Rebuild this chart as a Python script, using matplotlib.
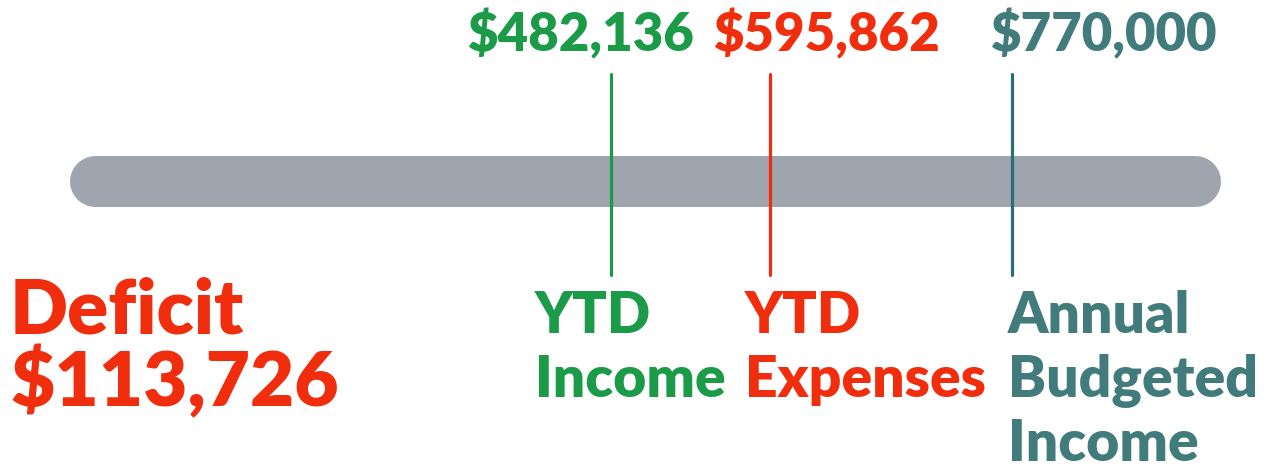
import matplotlib.pyplot as plt

# values shown on the scale
labels_top = ['$482,136', '$595,862', '$770,000']
values = [482136, 595862, 770000]
labels_bottom = [['YTD', 'Income'], ['YTD', 'Expenses'], ['Annual', 'Budgeted', 'Income']]
colors = ['#1b9a48', '#f02d0c', '#417b7c']
line_colors = ['#1b9a48', '#f02d0c', '#2c6e76']
deficit_lines = ['Deficit', '$113,726']
bar_range = [111900, 901000]

W, H = 1265, 468
fig = plt.figure(figsize=(W / 100, H / 100), dpi=100)
ax = fig.add_axes([0, 0, 1, 1])
ax.set_xlim(43760, 951200)
ax.set_ylim(H, 0)
ax.axis('off')

plt.rcParams['font.family'] = ['Lato', 'DejaVu Sans']
WEIGHT = 'heavy'

# grey track
ax.plot(bar_range, [181, 181], color='#9fa5ae', lw=51 * 0.72, solid_capstyle='round', zorder=1)

top_x = [467, 713, 990]
bottom_x = [535, 745, 1008]
for v, lt, lb, c, lc, tx, bx in zip(values, labels_top, labels_bottom, colors, line_colors, top_x, bottom_x):
    ax.plot([v, v], [74, 275], color=lc, lw=2.3, solid_capstyle='round', zorder=2)
    ax.text(tx / W, 1 - 51 / H, lt, transform=ax.transAxes, color=c, fontsize=38,
            fontweight=WEIGHT, ha='left', va='baseline')
    for i, line in enumerate(lb):
        ax.text(bx / W, 1 - (333 + 64 * i) / H, line, transform=ax.transAxes, color=c,
                fontsize=41, fontweight=WEIGHT, ha='left', va='baseline')

for i, line in enumerate(deficit_lines):
    ax.text(10 / W, 1 - (333 + 73 * i) / H, line, transform=ax.transAxes, color='#f02d0c',
            fontsize=55, fontweight=WEIGHT, ha='left', va='baseline')

fig.savefig('out.png', dpi=100)
